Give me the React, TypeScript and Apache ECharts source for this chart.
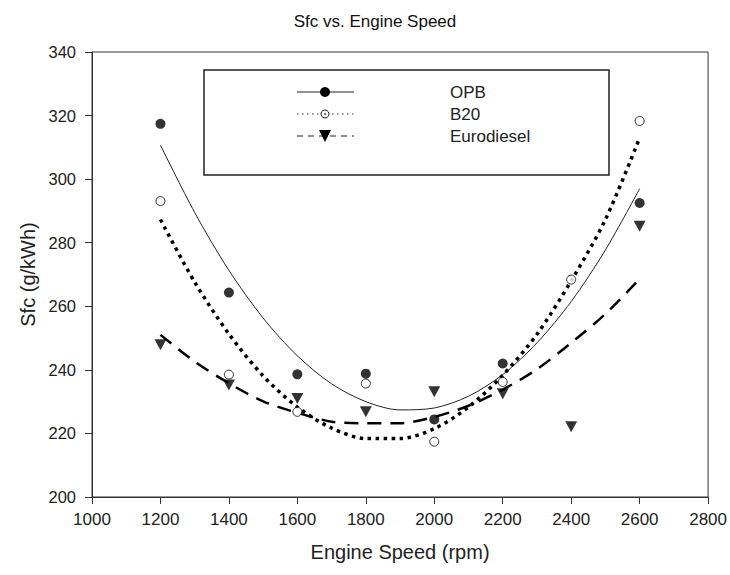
import React, { useEffect, useRef } from "react";
import * as echarts from "echarts";

const speeds = [1200, 1400, 1600, 1800, 2000, 2200, 2400, 2600];
const opbPoints = [317.4, 264.3, 238.6, 238.8, 224.4, 242.0, null, 292.5];
const b20Points = [293.1, 238.5, 226.8, 235.7, 217.4, 236.2, 268.4, 318.3];
const euroPoints = [247.9, 235.2, 231.0, 226.8, 233.1, 232.5, 222.1, 285.2];
// fitted curves, every 100 rpm
const fitSpeeds = [1200, 1300, 1400, 1500, 1600, 1700, 1800, 1900, 2000, 2100, 2200, 2300, 2400, 2500, 2600];
const opbFit = [310.7, 289.5, 271.3, 256.3, 244.4, 235.6, 230.0, 227.4, 228.0, 231.7, 238.5, 248.5, 261.5, 277.7, 297.0];
const b20Fit = [287.3, 267.6, 251.3, 238.1, 228.3, 221.7, 218.4, 218.4, 221.5, 228.3, 238.3, 251.2, 268.0, 287.3, 313.0];
const euroFit = [251.0, 242.6, 235.8, 230.1, 226.5, 223.7, 223.2, 223.2, 225.2, 228.7, 233.8, 240.2, 248.5, 257.6, 268.6];
const seriesNames = ["OPB", "B20", "Eurodiesel"];

const FONT = "Liberation Sans, Arial, sans-serif";

const pairs = (xs: number[], ys: (number | null)[]) =>
  xs.map((x, i) => [x, ys[i]]).filter((p) => p[1] !== null);

export default function App() {
  const ref = useRef<HTMLDivElement>(null);
  useEffect(() => {
    if (!ref.current) return;
    const chart = echarts.init(ref.current, null, { renderer: "svg" });
    const legendRows = [
      { y: 92, name: seriesNames[0] },
      { y: 114, name: seriesNames[1] },
      { y: 136, name: seriesNames[2] },
    ];
    chart.setOption({
      animation: false,
      backgroundColor: "#fff",
      title: {
        text: "Sfc vs. Engine Speed",
        left: 370,
        textAlign: "center",
        top: 8,
        textStyle: { fontFamily: FONT, fontSize: 17, fontWeight: "normal", color: "#111" },
      },
      grid: {
        left: 92,
        right: 20,
        top: 52,
        bottom: 78,
        show: true,
        borderColor: "#333",
        borderWidth: 1,
        backgroundColor: "transparent",
      },
      xAxis: {
        type: "value",
        min: 1000,
        max: 2800,
        interval: 200,
        name: "Engine Speed (rpm)",
        nameLocation: "middle",
        nameGap: 45,
        nameTextStyle: { fontFamily: FONT, fontSize: 20, color: "#222" },
        axisLine: { show: true, lineStyle: { color: "#333", width: 1 } },
        axisTick: { show: true, inside: false, length: 7, lineStyle: { color: "#333" } },
        axisLabel: {
          fontFamily: FONT,
          fontSize: 17,
          color: "#222",
          margin: 14,
          formatter: (v: number) => String(v),
        },
        splitLine: { show: false },
      },
      yAxis: {
        type: "value",
        min: 200,
        max: 340,
        interval: 20,
        name: "Sfc (g/kWh)",
        nameLocation: "middle",
        nameGap: 54,
        nameTextStyle: { fontFamily: FONT, fontSize: 20, color: "#222" },
        axisLine: { show: true, lineStyle: { color: "#333", width: 1 } },
        axisTick: { show: true, inside: false, length: 7, lineStyle: { color: "#333" } },
        axisLabel: { fontFamily: FONT, fontSize: 16.5, color: "#222", margin: 16 },
        splitLine: { show: false },
      },
      series: [
        {
          name: seriesNames[0] + " fit",
          type: "line",
          data: pairs(fitSpeeds, opbFit),
          smooth: 0.3,
          symbol: "none",
          lineStyle: { color: "#222", width: 1, type: "solid" },
          z: 2,
        },
        {
          name: seriesNames[1] + " fit",
          type: "line",
          data: pairs(fitSpeeds, b20Fit),
          smooth: 0.3,
          symbol: "none",
          lineStyle: { color: "#000", width: 3.5, type: [3.5, 4.5] },
          z: 2,
        },
        {
          name: seriesNames[2] + " fit",
          type: "line",
          data: pairs(fitSpeeds, euroFit),
          smooth: 0.3,
          symbol: "none",
          lineStyle: { color: "#000", width: 2.5, type: [14, 9] },
          z: 2,
        },
        {
          name: seriesNames[0],
          type: "scatter",
          data: pairs(speeds, opbPoints),
          symbol: "circle",
          symbolSize: 10,
          itemStyle: { color: "#000" },
          z: 3,
        },
        {
          name: seriesNames[1],
          type: "scatter",
          data: pairs(speeds, b20Points),
          symbol: "circle",
          symbolSize: 9,
          itemStyle: { color: "#fff", borderColor: "#000", borderWidth: 1 },
          z: 4,
        },
        {
          name: seriesNames[2],
          type: "scatter",
          data: pairs(speeds, euroPoints),
          symbol: "triangle",
          symbolRotate: 180,
          symbolSize: [12, 11],
          itemStyle: { color: "#000" },
          z: 3,
        },
      ],
      graphic: [
        {
          type: "rect",
          shape: { x: 204, y: 70, width: 405, height: 105 },
          style: { fill: "#fff", stroke: "#222", lineWidth: 1.5 },
          z: 10,
        },
        {
          type: "line",
          shape: { x1: 297, y1: legendRows[0].y, x2: 354, y2: legendRows[0].y },
          style: { stroke: "#222", lineWidth: 1 },
          z: 11,
        },
        {
          type: "circle",
          shape: { cx: 325, cy: legendRows[0].y, r: 5 },
          style: { fill: "#000" },
          z: 12,
        },
        {
          type: "line",
          shape: { x1: 297, y1: legendRows[1].y, x2: 354, y2: legendRows[1].y },
          style: { stroke: "#333", lineWidth: 1.2, lineDash: [1.5, 3.5] },
          z: 11,
        },
        {
          type: "circle",
          shape: { cx: 325, cy: legendRows[1].y, r: 4 },
          style: { fill: "#fff", stroke: "#222", lineWidth: 1 },
          z: 12,
        },
        {
          type: "circle",
          shape: { cx: 325, cy: legendRows[1].y, r: 0.8 },
          style: { fill: "#222" },
          z: 13,
        },
        {
          type: "line",
          shape: { x1: 297, y1: legendRows[2].y, x2: 354, y2: legendRows[2].y },
          style: { stroke: "#222", lineWidth: 1.2, lineDash: [6, 5] },
          z: 11,
        },
        {
          type: "polygon",
          shape: {
            points: [
              [319, legendRows[2].y - 6],
              [331, legendRows[2].y - 6],
              [325, legendRows[2].y + 6],
            ],
          },
          style: { fill: "#000" },
          z: 12,
        },
        ...legendRows.map((r) => ({
          type: "text",
          x: 450,
          y: r.y,
          style: {
            text: r.name,
            fontFamily: FONT,
            fontSize: 17,
            fill: "#222",
            textVerticalAlign: "middle",
            verticalAlign: "middle",
          },
          z: 12,
        })),
      ],
    });
    return () => chart.dispose();
  }, []);
  return (
    <div
      ref={ref}
      style={{ position: "fixed", left: 0, top: 0, width: 730, height: 575 }}
    />
  );
}
